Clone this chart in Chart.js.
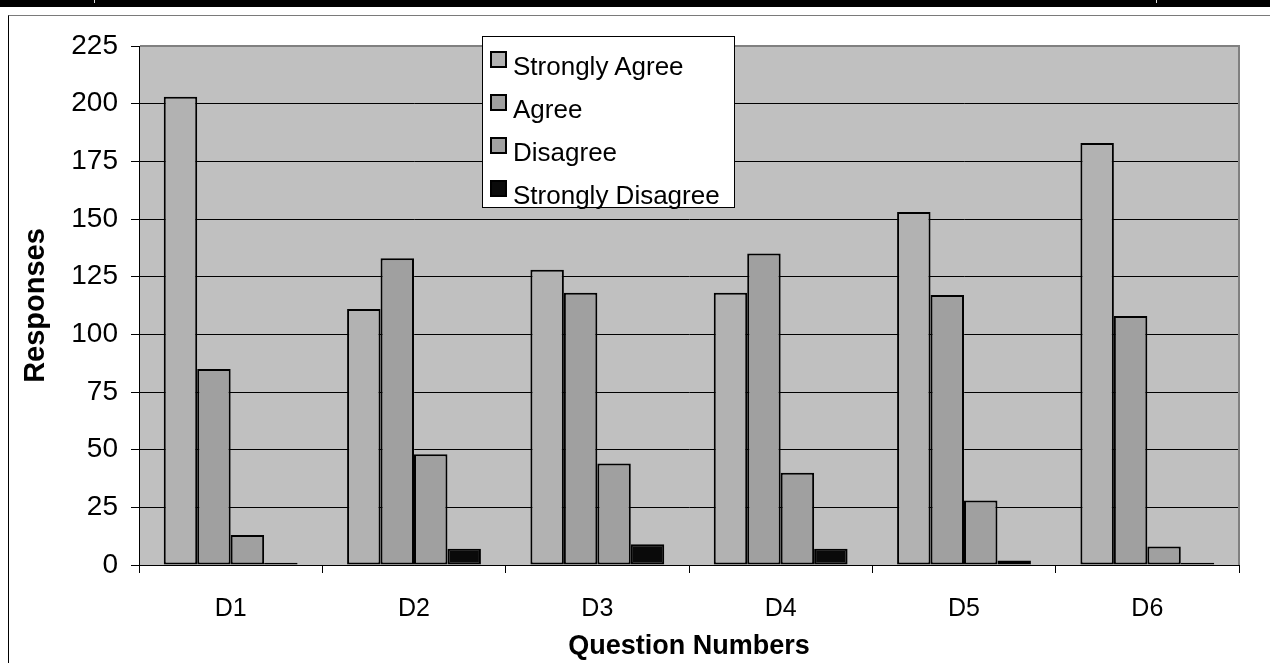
<!DOCTYPE html>
<html>
<head>
<meta charset="utf-8">
<script src="https://cdn.jsdelivr.net/npm/chart.js@4.4.1/dist/chart.umd.min.js"></script>
<style>
  html, body { margin: 0; padding: 0; background: #fff; }
  body { width: 1270px; height: 663px; position: relative; overflow: hidden; font-family: "Liberation Sans", Arial, sans-serif; }
  .topbar { position: absolute; left: 0; top: 0; width: 1270px; height: 7px; background: #000; }
  .topbar i { position: absolute; top: 0; width: 1px; height: 3px; background: #ddd; }
  .frame { position: absolute; left: 8px; top: 15px; width: 1300px; height: 700px; border-left: 1px solid #000; border-top: 1px solid #7a7a7a; }
  canvas { position: absolute; left: 0; top: 0; }
  #legend { position: absolute; left: 482px; top: 36px; width: 251px; height: 170px; background: #fff; border: 1px solid #000; }
  #legend .row { position: absolute; left: 0; height: 31px; line-height: 31px; font-size: 26px; color: #000; white-space: nowrap; }
  #legend .sw { position: absolute; left: 7px; top: 0; width: 17px; height: 17px; box-sizing: border-box; border: 2px solid #000; }
  #legend .tx { position: absolute; left: 30px; top: 0; }
</style>
</head>
<body>
<div class="topbar"><i style="left:94px"></i><i style="left:1156px"></i></div>
<div class="frame"></div>
<canvas id="chart" width="1270" height="663"></canvas>
<div id="legend"></div>
<script>
// данные с картинки
const questions = ['D1', 'D2', 'D3', 'D4', 'D5', 'D6'];
const seriesNames = ['Strongly Agree', 'Agree', 'Disagree', 'Strongly Disagree'];
const stronglyAgree = [203, 111, 128, 118, 153, 183];
const agree = [85, 133, 118, 135, 117, 108];
const disagree = [13, 48, 44, 40, 28, 8];
const stronglyDisagree = [1, 7, 9, 7, 2, 1];
const yMin = 0, yMax = 225, yStep = 25;

const fills = ['#b2b2b2', '#a0a0a0', '#a0a0a0', '#0a0a0a'];
const fontFam = '"Liberation Sans", Arial, sans-serif';

// фон области графика + серая рамка сверху/справа
const plotArea = {
  id: 'plotArea',
  beforeDraw(chart) {
    const {ctx, chartArea: a} = chart;
    ctx.save();
    ctx.fillStyle = '#c0c0c0';
    ctx.fillRect(a.left, a.top, a.right - a.left, a.bottom - a.top);
    ctx.restore();
  },
  beforeDatasetsDraw(chart) {
    const {ctx, chartArea: a} = chart;
    ctx.save();
    ctx.strokeStyle = '#808080';
    ctx.lineWidth = 2;
    ctx.beginPath();
    ctx.moveTo(a.left + 1, a.top);
    ctx.lineTo(a.right, a.top);
    ctx.lineTo(a.right, a.bottom);
    ctx.stroke();
    ctx.restore();
  }
};

const ctx = document.getElementById('chart').getContext('2d');
const chart = new Chart(ctx, {
  type: 'bar',
  data: {
    labels: questions,
    datasets: [stronglyAgree, agree, disagree, stronglyDisagree].map((vals, i) => ({
      label: seriesNames[i],
      data: vals,
      backgroundColor: fills[i],
      borderColor: '#000',
      borderWidth: 2,
      borderSkipped: false,
      categoryPercentage: 0.73,
      barPercentage: 1
    }))
  },
  options: {
    responsive: false,
    animation: false,
    devicePixelRatio: 1,
    layout: { padding: { left: 10, right: 31, top: 46, bottom: 0 } },
    plugins: {
      legend: { display: false },
      tooltip: { enabled: false }
    },
    scales: {
      x: {
        afterFit(s) { s.height = 98; },
        grid: { drawOnChartArea: false, offset: true, color: '#000', tickLength: 8 },
        border: { color: '#000', width: 1 },
        ticks: { color: '#000', padding: 21, font: { family: fontFam, size: 25 } },
        title: {
          display: true, text: 'Question Numbers', color: '#000',
          font: { family: fontFam, size: 27, weight: 'bold' },
          padding: { top: 0, bottom: 0 }
        }
      },
      y: {
        min: yMin, max: yMax,
        afterFit(s) { s.width = 129; },
        grid: { color: '#000', tickLength: 8 },
        border: { color: '#000', width: 1 },
        ticks: { stepSize: yStep, color: '#000', padding: 13, font: { family: fontFam, size: 28 } },
        title: {
          display: true, text: 'Responses', color: '#000',
          font: { family: fontFam, size: 29, weight: 'bold' },
          padding: { top: 9, bottom: 0 }
        }
      }
    }
  },
  plugins: [plotArea]
});

// легенда из наборов данных
const leg = document.getElementById('legend');
chart.data.datasets.forEach((ds, i) => {
  const row = document.createElement('div');
  row.className = 'row';
  row.style.top = (14 + i * 43) + 'px';
  row.innerHTML = '<span class="sw" style="background:' + ds.backgroundColor + '"></span><span class="tx">' + ds.label + '</span>';
  leg.appendChild(row);
});
</script>
</body>
</html>
